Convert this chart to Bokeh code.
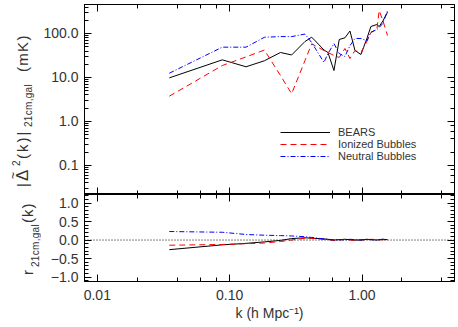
from bokeh.plotting import figure
from bokeh.layouts import column, row
from bokeh.models import (LogAxis, LinearAxis, LogTicker, SingleIntervalTicker,
                          CustomJSTickFormatter, Range1d, Legend, LegendItem, Span, Div)
from bokeh.embed import file_html
from bokeh.resources import INLINE

# ---- data ----
k = [0.035, 0.088, 0.133, 0.183, 0.242, 0.294, 0.371, 0.417, 0.516, 0.553, 0.614,
     0.673, 0.743, 0.811, 0.885, 0.982, 1.089, 1.167, 1.295, 1.349, 1.437, 1.56]
bears = [9.8, 25.2, 17.5, 24.0, 37.0, 32.5, 65.8, 82.4, 42.2, 37.0, 14.4,
         73.0, 79.8, 114.0, 41.1, 33.3, 77.0, 144.0, 160.0, 144.0, 192.0, 305.0]
ionized = [3.76, 18.7, 29.4, 42.0, 11.1, 4.26, 24.4, 58.3, 41.0, 37.0, 31.6,
           28.5, 45.6, 27.0, 41.0, 37.0, 65.8, 105.0, 123.0, 333.0, 197.0, 90.0]
neutral = [12.5, 48.9, 48.9, 82.0, 85.0, 85.0, 97.0, 62.0, 22.0, 35.0, 59.0,
           35.0, 30.0, 53.0, 77.0, 77.0, 69.0, 107.0, 123.0, 137.0, 169.0, 333.0]
r_bears = [-0.26, -0.13, -0.09, -0.05, -0.01, 0.04, 0.06, 0.05, 0.03, 0.02, 0.0,
           0.01, 0.02, 0.01, 0.0, 0.0, 0.02, 0.01, 0.0, 0.01, 0.02, 0.01]
r_ionized = [-0.14, -0.12, -0.10, -0.08, -0.04, 0.0, 0.05, 0.05, 0.02, 0.01, -0.01,
             0.0, 0.02, 0.0, -0.01, 0.01, 0.0, 0.02, 0.01, 0.0, 0.01, -0.01]
r_neutral = [0.23, 0.21, 0.15, 0.13, 0.12, 0.11, 0.09, 0.07, 0.03, 0.02, 0.0,
             0.01, 0.0, 0.02, 0.01, 0.0, 0.02, 0.01, 0.0, 0.01, 0.02, 0.01]
series_names = ["BEARS", "Ionized Bubbles", "Neutral Bubbles"]

FONT = "Liberation Sans"
TXT = "#333333"
DIV_W = 40
W = 458 - DIV_W
LEFT = 83 - DIV_W
RIGHT = 4
TOP_H = 194
BOT_H = 133

x_rng = Range1d(0.008, 5.0)

xfmt = CustomJSTickFormatter(code="return tick.toFixed(2)")
yfmt_top = CustomJSTickFormatter(code="return tick.toFixed(1)")
yfmt_bot = CustomJSTickFormatter(code="return (tick < -1e-9 ? '\u2212' : '') + Math.abs(tick).toFixed(1)")


def style_axis(ax, labels=True):
    ax.axis_line_color = "black"
    ax.major_tick_line_color = "black"
    ax.minor_tick_line_color = "black"
    ax.major_tick_in = 7
    ax.major_tick_out = 0
    ax.minor_tick_in = 4
    ax.minor_tick_out = 0
    if labels:
        ax.major_label_text_font = FONT
        ax.major_label_text_font_size = "14px"
        ax.major_label_text_color = TXT
        ax.major_label_standoff = 6
    else:
        ax.major_label_text_font_size = "1px"
        ax.major_label_text_alpha = 0
        ax.major_label_standoff = 0


def base_fig(height, y_type, y_rng):
    p = figure(width=W, height=height, x_axis_type="log", y_axis_type=y_type,
               x_range=x_rng, y_range=y_rng, output_backend="svg",
               toolbar_location=None, min_border_left=LEFT, min_border_right=RIGHT,
               min_border_top=0, min_border_bottom=0)
    p.grid.visible = False
    p.outline_line_color = "black"
    p.background_fill_color = "white"
    p.border_fill_color = "white"
    return p


# ---- top panel ----
top = base_fig(TOP_H, "log", Range1d(0.0219, 456))
top.min_border_top = 4
top.xaxis[0].ticker = LogTicker()
style_axis(top.xaxis[0], labels=False)
top.yaxis[0].formatter = yfmt_top
style_axis(top.yaxis[0])
ax_t = LogAxis(ticker=LogTicker())
style_axis(ax_t, labels=False)
top.add_layout(ax_t, "above")
ax_r = LogAxis(ticker=LogTicker())
style_axis(ax_r, labels=False)
top.add_layout(ax_r, "right")

rb = top.line(k, bears, line_color="black", line_width=1)
ri = top.line(k, ionized, line_color="#ff0000", line_width=1, line_dash="6 4")
rn = top.line(k, neutral, line_color="#0000ff", line_width=1, line_dash="5 2 1 2")

legend = Legend(items=[LegendItem(label=series_names[0], renderers=[rb]),
                       LegendItem(label=series_names[1], renderers=[ri]),
                       LegendItem(label=series_names[2], renderers=[rn])],
                location=(196, 32), glyph_width=50, glyph_height=12, label_height=12,
                spacing=0, padding=0, margin=0, label_standoff=8,
                label_text_font=FONT, label_text_font_size="11px", label_text_color=TXT,
                border_line_alpha=0, background_fill_alpha=0)
top.add_layout(legend)

# ---- bottom panel ----
bot = base_fig(BOT_H, "linear", Range1d(-1.12, 1.23))
bot.min_border_bottom = 46
bot.xaxis[0].ticker = LogTicker()
bot.xaxis[0].formatter = xfmt
style_axis(bot.xaxis[0])
bot.xaxis[0].major_label_standoff = 8
bot.xaxis[0].axis_label = "k (h Mpc\u207b\u00b9)"
bot.xaxis[0].axis_label_text_font = FONT
bot.xaxis[0].axis_label_text_font_size = "14px"
bot.xaxis[0].axis_label_text_font_style = "normal"
bot.xaxis[0].axis_label_text_color = TXT
bot.xaxis[0].axis_label_standoff = 2
bot.yaxis[0].ticker = SingleIntervalTicker(interval=0.5, num_minor_ticks=5)
bot.yaxis[0].formatter = yfmt_bot
style_axis(bot.yaxis[0])
ax_t2 = LogAxis(ticker=LogTicker())
style_axis(ax_t2, labels=False)
bot.add_layout(ax_t2, "above")
ax_r2 = LinearAxis(ticker=SingleIntervalTicker(interval=0.5, num_minor_ticks=5))
style_axis(ax_r2, labels=False)
bot.add_layout(ax_r2, "right")

bot.add_layout(Span(location=0, dimension="width", line_color="black",
                    line_width=1, line_dash="1 2"))
bot.line(k, r_bears, line_color="black", line_width=1)
bot.line(k, r_ionized, line_color="#ff0000", line_width=1, line_dash="6 4")
bot.line(k, r_neutral, line_color="#0000ff", line_width=1, line_dash="5 2 1 2")

# ---- rotated y-axis titles (HTML text with sub/superscripts) ----
ib = "display:inline-block;"
top_title = (
    f'<div style="position:absolute;left:14.4px;top:187px;transform:rotate(-90deg);'
    f'transform-origin:0 0;white-space:nowrap;font-size:15px;line-height:1;">'
    f'<span style="{ib}width:21px;">|'
    f'<span style="{ib}position:relative;margin-left:2px;font-size:17px;line-height:1;">\u0394'
    f'<span style="position:absolute;left:2px;top:-7px;font-size:12px;line-height:1;">~</span>'
    f'</span></span>'
    f'<span style="{ib}width:7px;font-size:10px;position:relative;top:-7.7px;">2</span>'
    f'<span style="{ib}width:32px;letter-spacing:2px;">(k)|</span>'
    f'<span style="{ib}width:55px;font-size:10px;position:relative;top:3.5px;letter-spacing:0.3px;">21cm,gal</span>'
    f'<span style="{ib}letter-spacing:1.3px;">(mK)</span></div>'
)
bot_title = (
    f'<div style="position:absolute;left:20.2px;top:275px;transform:rotate(-90deg);'
    f'transform-origin:0 0;white-space:nowrap;font-size:15px;line-height:1;">'
    f'<span style="{ib}width:8px;">r</span>'
    f'<span style="{ib}width:44px;font-size:10px;position:relative;top:6.4px;letter-spacing:0.3px;">21cm,gal</span>'
    f'<span style="{ib}letter-spacing:1px;">(k)</span></div>'
)
div = Div(text=(f'<div style="position:relative;width:{DIV_W}px;height:327px;'
                f'font-family:\'{FONT}\';color:{TXT};">' + top_title + bot_title + '</div>'),
          width=DIV_W, height=327, margin=(0, 0, 0, 0))

layout = row(div, column(top, bot, spacing=0), spacing=0)
open("out.html", "w").write(file_html(layout, INLINE))
